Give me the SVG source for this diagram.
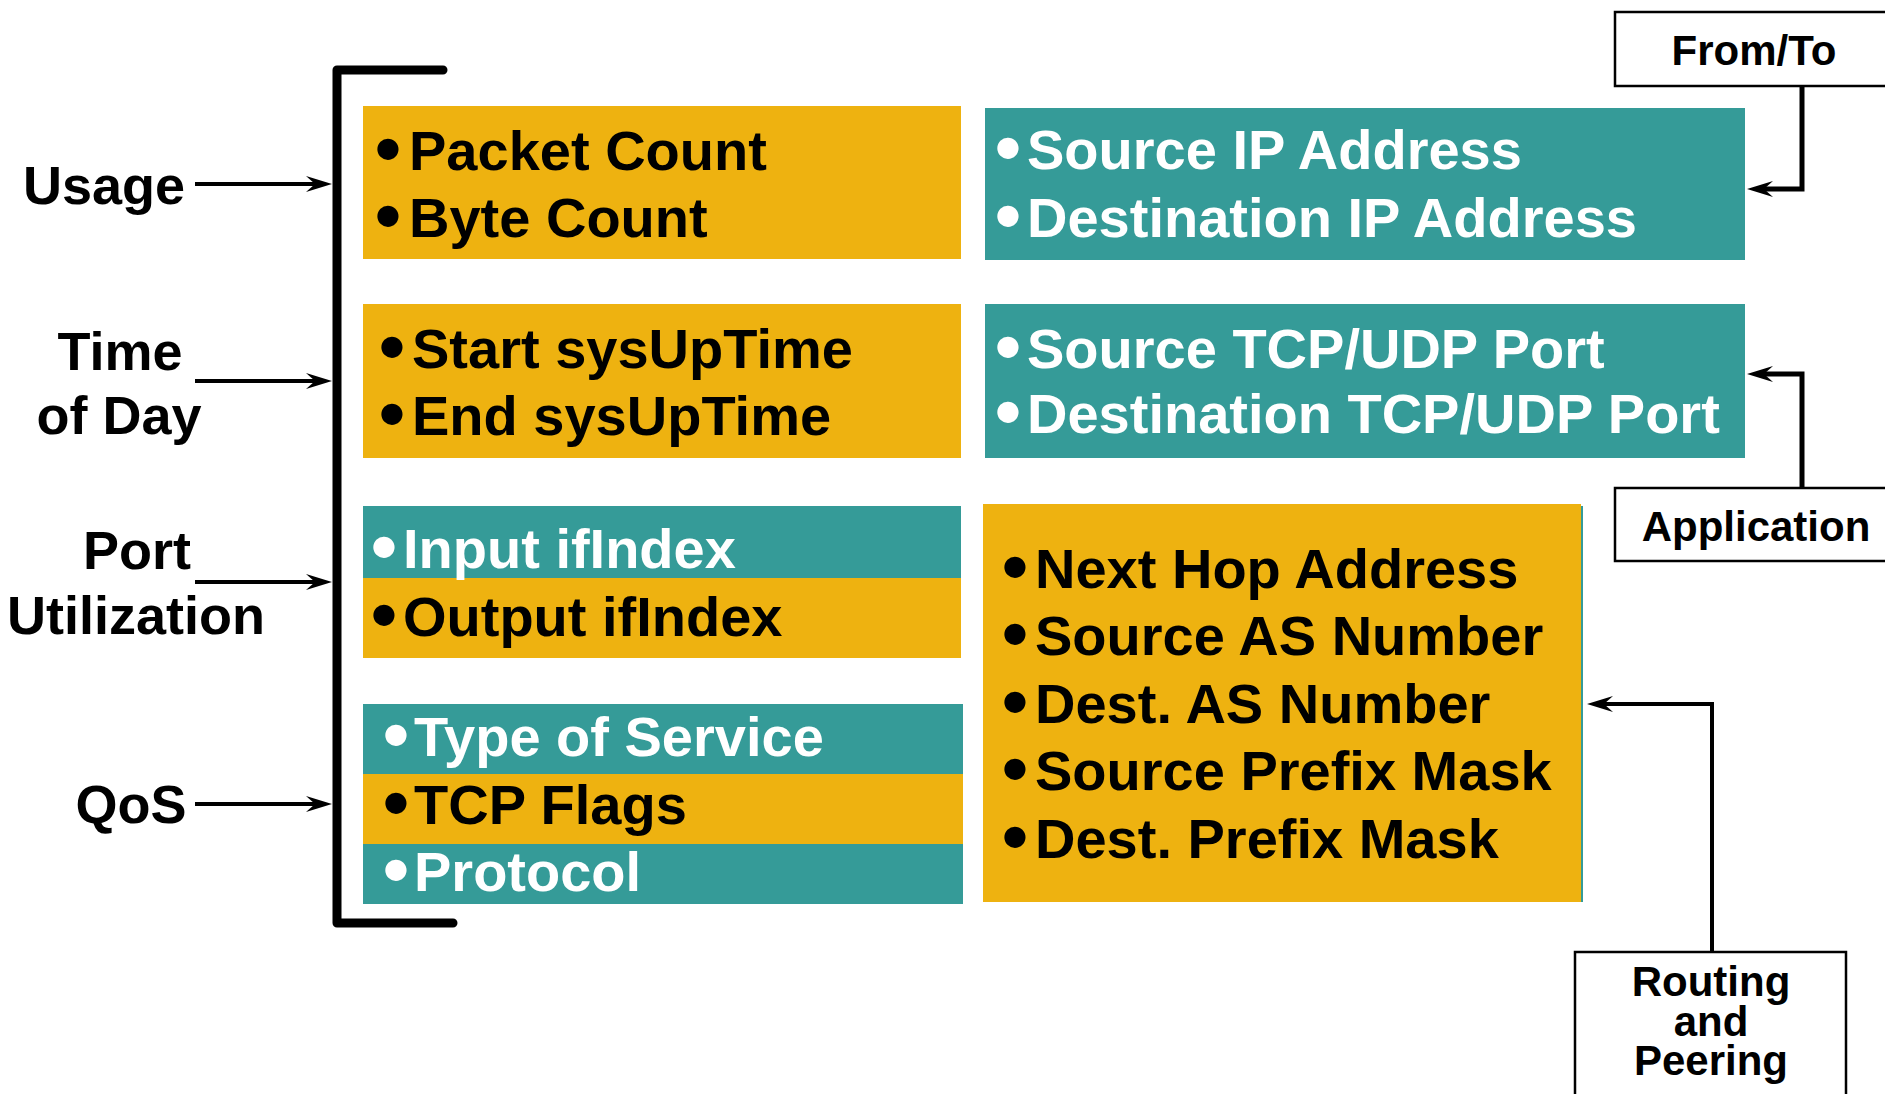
<svg xmlns="http://www.w3.org/2000/svg" width="1885" height="1094" viewBox="0 0 1885 1094">
<style>
text{font-family:"Liberation Sans",Arial,Helvetica,sans-serif;font-weight:bold}
.lab{font-size:54px;fill:#000;text-anchor:middle}
.box{font-size:42px;fill:#000;text-anchor:middle}
.t{font-size:56px}
.k{fill:#000}
.w{fill:#fff}
.bul{font-size:74px}
.or{fill:#EEB210}
.te{fill:#359B98}
.frame{fill:#fff;stroke:#000;stroke-width:2.5}
.con{fill:none;stroke:#000;stroke-linejoin:miter}
</style>
<defs>
<marker id="ah" markerUnits="userSpaceOnUse" viewBox="0 0 26 16" refX="9" refY="8" markerWidth="26" markerHeight="16" orient="auto">
<path d="M0,0 L26,8 L0,16 L9,8 Z" fill="#000"/>
</marker>
</defs>
<rect width="1885" height="1094" fill="#fff"/>

<g id="labels">
<text class="lab" x="104" y="204">Usage</text>
<text class="lab" x="120" y="370">Time</text>
<text class="lab" x="119" y="434">of Day</text>
<text class="lab" x="137" y="569">Port</text>
<text class="lab" x="136" y="634">Utilization</text>
<text class="lab" x="131" y="823">QoS</text>
</g>

<g id="bracket">
<path d="M443,70 L337,70 L337,923 L453,923" fill="none" stroke="#000" stroke-width="9" stroke-linecap="round" stroke-linejoin="round"/>
</g>

<g id="usage-box">
<rect class="or" x="363" y="106" width="598" height="153"/>
<text class="t k" y="170"><tspan class="bul" x="375" dy="4">•</tspan><tspan x="409" dy="-4">Packet Count</tspan></text>
<text class="t k" y="237"><tspan class="bul" x="375" dy="4">•</tspan><tspan x="409" dy="-4">Byte Count</tspan></text>
</g>

<g id="time-box">
<rect class="or" x="363" y="304" width="598" height="154"/>
<text class="t k" y="368"><tspan class="bul" x="379" dy="4">•</tspan><tspan x="412" dy="-4">Start sysUpTime</tspan></text>
<text class="t k" y="435"><tspan class="bul" x="379" dy="4">•</tspan><tspan x="412" dy="-4">End sysUpTime</tspan></text>
</g>

<g id="port-box">
<rect class="te" x="363" y="506" width="598" height="72"/>
<rect class="or" x="363" y="578" width="598" height="80"/>
<text class="t w" y="568"><tspan class="bul" x="371" dy="4">•</tspan><tspan x="403" dy="-4">Input ifIndex</tspan></text>
<text class="t k" y="636"><tspan class="bul" x="371" dy="4">•</tspan><tspan x="403" dy="-4">Output ifIndex</tspan></text>
</g>

<g id="qos-box">
<rect class="te" x="363" y="704" width="600" height="70"/>
<rect class="or" x="363" y="774" width="600" height="70"/>
<rect class="te" x="363" y="844" width="600" height="60"/>
<text class="t w" y="756"><tspan class="bul" x="383" dy="4">•</tspan><tspan x="414" dy="-4">Type of Service</tspan></text>
<text class="t k" y="824"><tspan class="bul" x="383" dy="4">•</tspan><tspan x="414" dy="-4">TCP Flags</tspan></text>
<text class="t w" y="891"><tspan class="bul" x="383" dy="4">•</tspan><tspan x="414" dy="-4">Protocol</tspan></text>
</g>

<g id="ip-box">
<rect class="te" x="985" y="108" width="760" height="152"/>
<text class="t w" y="169"><tspan class="bul" x="995" dy="4">•</tspan><tspan x="1027" dy="-4">Source IP Address</tspan></text>
<text class="t w" y="237"><tspan class="bul" x="995" dy="4">•</tspan><tspan x="1027" dy="-4">Destination IP Address</tspan></text>
</g>

<g id="port-num-box">
<rect class="te" x="985" y="304" width="760" height="154"/>
<text class="t w" y="368"><tspan class="bul" x="995" dy="4">•</tspan><tspan x="1027" dy="-4">Source TCP/UDP Port</tspan></text>
<text class="t w" y="433"><tspan class="bul" x="995" dy="4">•</tspan><tspan x="1027" dy="-4">Destination TCP/UDP Port</tspan></text>
</g>

<g id="routing-box">
<rect class="or" x="983" y="504" width="598" height="398"/>
<rect class="te" x="1581" y="506" width="2" height="396"/>
<text class="t k" y="588"><tspan class="bul" x="1002" dy="4">•</tspan><tspan x="1035" dy="-4">Next Hop Address</tspan></text>
<text class="t k" y="655"><tspan class="bul" x="1002" dy="4">•</tspan><tspan x="1035" dy="-4">Source AS Number</tspan></text>
<text class="t k" y="723"><tspan class="bul" x="1002" dy="4">•</tspan><tspan x="1035" dy="-4">Dest. AS Number</tspan></text>
<text class="t k" y="790"><tspan class="bul" x="1002" dy="4">•</tspan><tspan x="1035" dy="-4">Source Prefix Mask</tspan></text>
<text class="t k" y="858"><tspan class="bul" x="1002" dy="4">•</tspan><tspan x="1035" dy="-4">Dest. Prefix Mask</tspan></text>
</g>

<g id="from-to">
<rect class="frame" x="1615" y="12" width="300" height="74"/>
<text class="box" x="1754" y="65">From/To</text>
</g>

<g id="application">
<rect class="frame" x="1615" y="488" width="300" height="73"/>
<text class="box" x="1756" y="541">Application</text>
</g>

<g id="routing-peering">
<rect class="frame" x="1575" y="952" width="271" height="160"/>
<text class="box" x="1711" y="996">Routing</text>
<text class="box" x="1711" y="1036">and</text>
<text class="box" x="1711" y="1075">Peering</text>
</g>

<g id="connectors">
<path class="con" stroke-width="4" d="M195,184 H315" marker-end="url(#ah)"/>
<path class="con" stroke-width="4" d="M195,381 H315" marker-end="url(#ah)"/>
<path class="con" stroke-width="4" d="M195,582 H315" marker-end="url(#ah)"/>
<path class="con" stroke-width="4" d="M195,804 H315" marker-end="url(#ah)"/>
<path class="con" stroke-width="5" d="M1802,86 V189 H1764" marker-end="url(#ah)"/>
<path class="con" stroke-width="5" d="M1802,488 V374 H1764" marker-end="url(#ah)"/>
<path class="con" stroke-width="4" d="M1712,952 V704 H1604" marker-end="url(#ah)"/>
</g>
</svg>
